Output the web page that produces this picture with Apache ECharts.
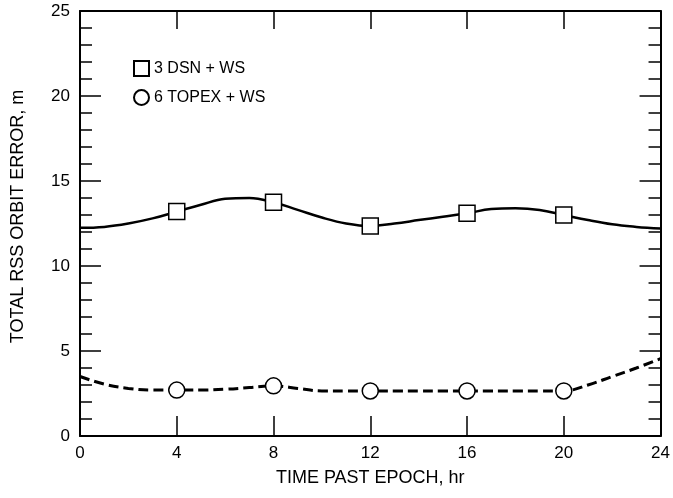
<!DOCTYPE html>
<html><head><meta charset="utf-8">
<script src="https://cdn.jsdelivr.net/npm/echarts@6/dist/echarts.min.js"></script>
<style>html,body{margin:0;padding:0;background:#fff}#c{width:673px;height:498px}</style>
</head><body><div id="c"></div>
<script>
const hours = [0,1,2,3,4,5,6,7,8,9,10,11,12,13,14,15,16,17,18,19,20,21,22,23,24];
const dsnValues = [12.25,12.3,12.5,12.8,13.2,13.6,13.95,14.0,13.75,13.3,12.85,12.5,12.35,12.5,12.7,12.9,13.1,13.35,13.4,13.3,13.0,12.7,12.45,12.3,12.2];
const topexValues = [3.5,3.05,2.8,2.7,2.7,2.7,2.75,2.85,2.95,2.8,2.65,2.65,2.65,2.65,2.65,2.65,2.65,2.65,2.65,2.65,2.65,3.0,3.5,4.0,4.55];
const markerHours = [4,8,12,16,20];
const dsnMarkers = [13.2,13.75,12.35,13.1,13.0];
const topexMarkers = [2.7,2.95,2.65,2.65,2.65];
const xTicks = [0,4,8,12,16,20,24];
const yTicks = [0,5,10,15,20,25];
const seriesNames = ['3 DSN + WS','6 TOPEX + WS'];
const xName = 'TIME PAST EPOCH, hr';
const yName = 'TOTAL RSS ORBIT ERROR, m';

const font = 'Liberation Sans, Arial, sans-serif';
const zip = (xs, ys) => xs.map((x,i)=>[x, ys[i]]);
const chart = echarts.init(document.getElementById('c'));
const axisLine = {show:true, onZero:false, lineStyle:{color:'#000', width:2}};
const baseY = {
  type:'value', min:yTicks[0], max:yTicks[yTicks.length-1], interval:5,
  axisLine:axisLine,
  axisTick:{show:true, inside:true, length:21, lineStyle:{color:'#000', width:1.5}},
  minorTick:{show:true, splitNumber:5, length:12, lineStyle:{color:'#000', width:1.5}},
  splitLine:{show:false}
};
chart.setOption({
  animation:false,
  backgroundColor:'#fff',
  grid:{left:80, right:2, top:11, bottom:62},
  legend:{
    orient:'vertical', left:128, top:55, itemGap:12, itemWidth:15, itemHeight:15,
    data:seriesNames,
    textStyle:{fontFamily:font, fontSize:16, color:'#000'}
  },
  xAxis:[{
    type:'value', min:0, max:24, interval:4, position:'bottom',
    name:xName, nameLocation:'middle', nameGap:33,
    nameTextStyle:{fontFamily:font, fontSize:18, color:'#000'},
    axisLine:axisLine,
    axisTick:{show:true, inside:true, length:20, lineStyle:{color:'#000', width:1.5}},
    axisLabel:{fontFamily:font, fontSize:17, color:'#000', margin:9,
      formatter:v => xTicks.includes(v) ? String(v) : ''},
    splitLine:{show:false}
  },{
    type:'value', min:0, max:24, interval:4, position:'top',
    axisLine:axisLine,
    axisTick:{show:true, inside:true, length:18, lineStyle:{color:'#000', width:1.5}},
    axisLabel:{show:false}, splitLine:{show:false}
  }],
  yAxis:[Object.assign({}, baseY, {
    position:'left',
    name:yName, nameLocation:'middle', nameGap:53, nameRotate:90,
    nameTextStyle:{fontFamily:font, fontSize:18, color:'#000', padding:[0,0,0,14]},
    axisLabel:{fontFamily:font, fontSize:17, color:'#000', margin:10,
      formatter:v => yTicks.includes(v) ? String(v) : ''}
  }), Object.assign({}, baseY, {
    position:'right', axisLabel:{show:false}
  })],
  series:[
    {name:'dsnLine', type:'line', data:zip(hours, dsnValues), smooth:0.4, showSymbol:false,
     lineStyle:{color:'#000', width:2.5}, z:2},
    {name:'topexLine', type:'line', data:zip(hours, topexValues), smooth:0.4, showSymbol:false,
     lineStyle:{color:'#000', width:3, type:[10,5]}, z:2},
    {name:seriesNames[0], type:'scatter', data:zip(markerHours, dsnMarkers), symbol:'rect', symbolSize:16,
     itemStyle:{color:'#fff', borderColor:'#000', borderWidth:1.5, opacity:1}, z:3},
    {name:seriesNames[1], type:'scatter', data:zip(markerHours, topexMarkers), symbol:'circle', symbolSize:16,
     itemStyle:{color:'#fff', borderColor:'#000', borderWidth:1.5, opacity:1}, z:3}
  ]
});
</script></body></html>
